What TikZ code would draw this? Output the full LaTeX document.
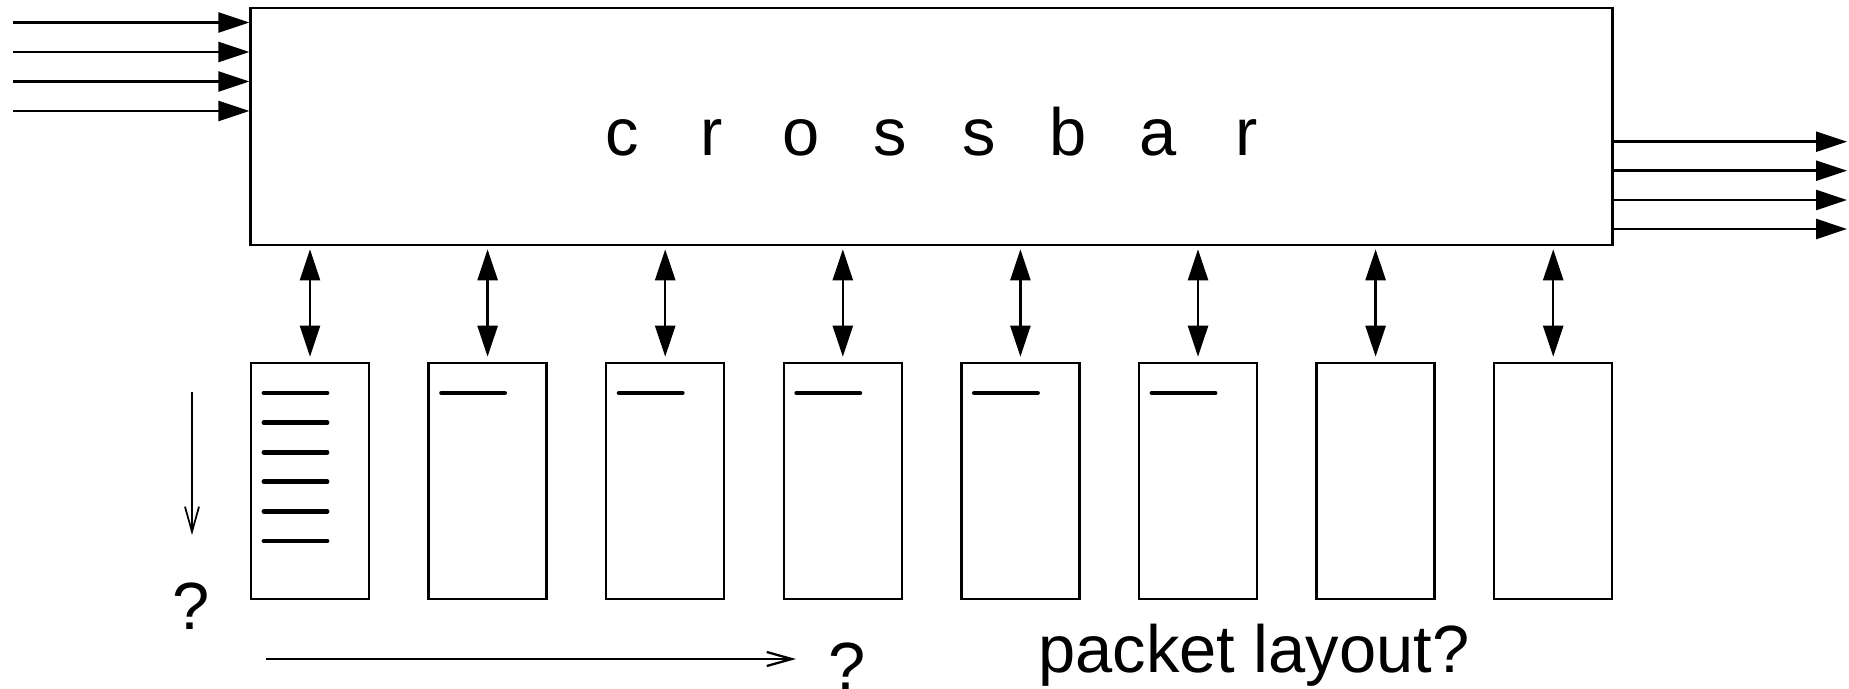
\documentclass[tikz,border=0pt]{standalone}
\usepackage{fontspec}
\setmainfont{Liberation Sans}
\usetikzlibrary{arrows.meta}

\begin{document}
\begin{tikzpicture}[x=0.01cm,y=-0.01cm,
    box/.style={draw,line width=0.7pt,inner sep=0pt},
    fat/.style={-{Triangle[length=3.1mm,width=2mm]},line width=0.7pt},
    both/.style={{Triangle[length=3.1mm,width=2mm]}-{Triangle[length=3.1mm,width=2mm]},line width=0.7pt},
    open/.style={-{Straight Barb[length=2.5mm,width=1.4mm]},line width=0.5pt},
    bar/.style={line width=1.4pt,line cap=round},
    txt/.style={anchor=base,inner sep=0pt,font=\fontsize{19}{23}\selectfont}]
	\useasboundingbox (0,0) rectangle (1849,688);

	% crossbar and its letters
	\node[box,minimum width=13.61cm,minimum height=2.37cm] (XB) at (931.5,126.5) {};
	\foreach \ch [count=\i] in {c,r,o,s,s,b,a,r}
		\node[txt] (L\i) at (622.5+89.2*\i-89.2,156) {\ch};

	% inputs and outputs
	\foreach \y [count=\i] in {22.5,52,81.5,111} {
		\coordinate (IN\i) at (13,\y);
		\draw[fat] (IN\i) -- (IN\i -| XB.west);
	}
	\foreach \y [count=\i] in {141.7,170.7,200,229} {
		\coordinate (OUT\i) at (1847,\y);
		\draw[fat] (OUT\i -| XB.east) -- (OUT\i);
	}

	% memory banks
	\foreach \i in {1,...,8} {
		\node[box,minimum width=1.18cm,minimum height=2.36cm] (M\i) at (310+177.6*\i-177.6,481) {};
		\draw[both,shorten <=0.3mm,shorten >=0.5mm] (M\i |- XB.south) -- (M\i.north);
	}

	% packets
	\foreach \k in {0,...,5}
		\draw[bar] (264,393+29.6*\k) -- (327,393+29.6*\k);
	\foreach \i in {1,...,5}
		\draw[bar] (264+177.6*\i,393) -- (327+177.6*\i,393);

	% the two directions
	\coordinate (D1) at (192,392);
	\coordinate (D2) at (192,535);
	\draw[open] (D1) -- (D2);
	\node[txt] (Q1) at (191,629) {?};
	\coordinate (R1) at (266,659);
	\coordinate (R2) at (796,659);
	\draw[open,line width=0.65pt] (R1) -- (R2);
	\node[txt] (Q2) at (847,689) {?};

	\node[txt] (PL) at (1254,672.7) {packet layout?};
\end{tikzpicture}
\end{document}
